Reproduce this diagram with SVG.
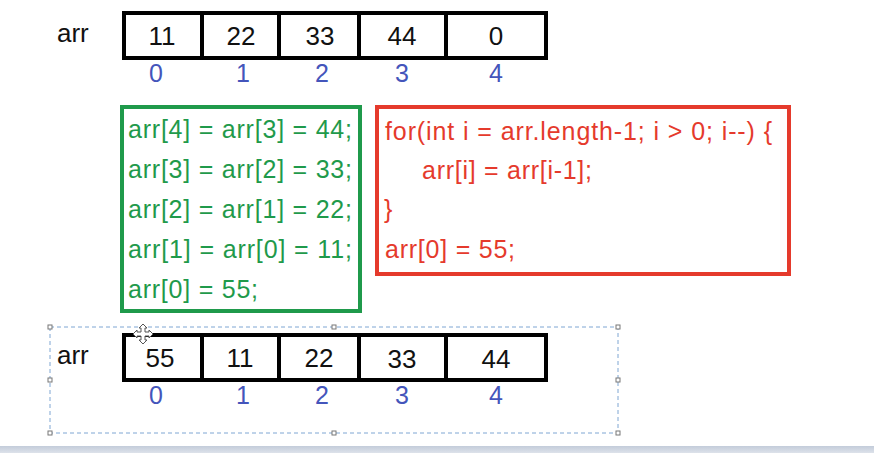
<svg xmlns="http://www.w3.org/2000/svg" width="874" height="453" viewBox="0 0 874 453">
<style>
  .t { font-family: "Liberation Sans", Arial, sans-serif; }
  .cell { fill: #fff; stroke: #000; stroke-width: 4; }
  .div { stroke: #000; stroke-width: 4; }
  .val { font-size: 26px; fill: #111; text-anchor: middle; }
  .idx { font-size: 25px; fill: #4455bb; text-anchor: middle; }
  .lbl { font-size: 26px; fill: #111; }
  .green { font-size: 25px; fill: #1f9a4b; }
  .red { font-size: 25px; fill: #e53a2c; }
  .handle { fill: #fff; stroke: #777; stroke-width: 1; }
</style>
<rect width="874" height="453" fill="#fff"/>

<g id="array-before">
  <text class="t lbl" x="57" y="42">arr</text>
  <rect class="cell" x="124" y="13" width="422" height="45"/>
  <line class="div" x1="202" y1="13" x2="202" y2="58"/>
  <line class="div" x1="279" y1="13" x2="279" y2="58"/>
  <line class="div" x1="359" y1="13" x2="359" y2="58"/>
  <line class="div" x1="446" y1="13" x2="446" y2="58"/>
  <text class="t val" x="162" y="45">11</text>
  <text class="t val" x="241" y="45">22</text>
  <text class="t val" x="320" y="45">33</text>
  <text class="t val" x="402" y="45">44</text>
  <text class="t val" x="496" y="45">0</text>
  <text class="t idx" x="156" y="82">0</text>
  <text class="t idx" x="243" y="82">1</text>
  <text class="t idx" x="322" y="82">2</text>
  <text class="t idx" x="402" y="82">3</text>
  <text class="t idx" x="496" y="82">4</text>
</g>

<g id="manual-steps">
  <rect x="122" y="107" width="238" height="204" fill="#fff" stroke="#1f9a4b" stroke-width="4"/>
  <text class="t green" x="128" y="138" textLength="224" lengthAdjust="spacing">arr[4] = arr[3] = 44;</text>
  <text class="t green" x="128" y="178" textLength="224" lengthAdjust="spacing">arr[3] = arr[2] = 33;</text>
  <text class="t green" x="128" y="218" textLength="224" lengthAdjust="spacing">arr[2] = arr[1] = 22;</text>
  <text class="t green" x="128" y="258" textLength="224" lengthAdjust="spacing">arr[1] = arr[0] = 11;</text>
  <text class="t green" x="128" y="298" textLength="130" lengthAdjust="spacing">arr[0] = 55;</text>
</g>

<g id="loop-code">
  <rect x="377" y="107" width="412" height="167" fill="#fff" stroke="#e53a2c" stroke-width="4"/>
  <text class="t red" x="385" y="140" textLength="387" lengthAdjust="spacing">for(int i = arr.length-1; i &gt; 0; i--) {</text>
  <text class="t red" x="422" y="179" textLength="170" lengthAdjust="spacing">arr[i] = arr[i-1];</text>
  <text class="t red" x="384" y="218">}</text>
  <text class="t red" x="385" y="258" textLength="130" lengthAdjust="spacing">arr[0] = 55;</text>
</g>

<g id="selection">
  <rect x="50" y="327" width="568" height="106" fill="none" stroke="#7fa6d3" stroke-width="1" stroke-dasharray="4 3"/>
</g>

<g id="array-after">
  <text class="t lbl" x="57" y="364">arr</text>
  <rect class="cell" x="124" y="335" width="422" height="45"/>
  <line class="div" x1="202" y1="335" x2="202" y2="380"/>
  <line class="div" x1="279" y1="335" x2="279" y2="380"/>
  <line class="div" x1="359" y1="335" x2="359" y2="380"/>
  <line class="div" x1="446" y1="335" x2="446" y2="380"/>
  <text class="t val" x="160" y="367">55</text>
  <text class="t val" x="240" y="367">11</text>
  <text class="t val" x="319" y="367">22</text>
  <text class="t val" x="402" y="368">33</text>
  <text class="t val" x="496" y="368">44</text>
  <text class="t idx" x="156" y="404">0</text>
  <text class="t idx" x="243" y="404">1</text>
  <text class="t idx" x="322" y="404">2</text>
  <text class="t idx" x="402" y="404">3</text>
  <text class="t idx" x="496" y="404">4</text>
</g>

<g id="handles">
  <rect class="handle" x="48" y="325" width="4" height="4"/>
  <rect class="handle" x="332" y="325" width="4" height="4"/>
  <rect class="handle" x="616" y="325" width="4" height="4"/>
  <rect class="handle" x="48" y="378" width="4" height="4"/>
  <rect class="handle" x="616" y="378" width="4" height="4"/>
  <rect class="handle" x="48" y="431" width="4" height="4"/>
  <rect class="handle" x="332" y="431" width="4" height="4"/>
  <rect class="handle" x="616" y="431" width="4" height="4"/>
</g>

<g id="move-cursor">
  <path d="M143 324 L147 328 L145 328 L145 332 L149 332 L149 330 L153 334 L149 338 L149 336 L145 336 L145 340 L147 340 L143 344 L139 340 L141 340 L141 336 L137 336 L137 338 L133 334 L137 330 L137 332 L141 332 L141 328 L139 328 Z" fill="#fff" stroke="#555" stroke-width="1"/>
</g>

<defs>
  <linearGradient id="band" x1="0" y1="0" x2="0" y2="1">
    <stop offset="0" stop-color="#c3ccda"/>
    <stop offset="1" stop-color="#dde2ea"/>
  </linearGradient>
</defs>
<rect x="0" y="446" width="874" height="7" fill="url(#band)"/>
</svg>
